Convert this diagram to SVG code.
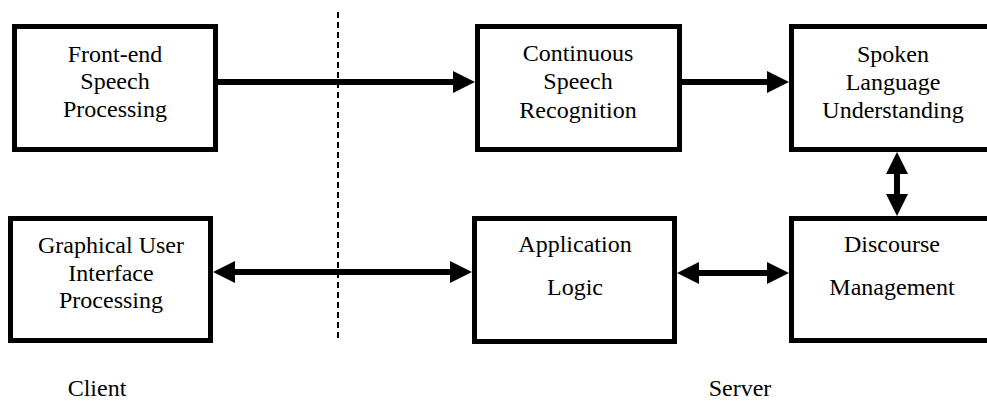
<svg xmlns="http://www.w3.org/2000/svg" width="987" height="401" viewBox="0 0 987 401">
<style>
.box{fill:#fff;stroke:#000;stroke-width:5}
.c{stroke:#000;stroke-width:6;fill:none}
.d{stroke:#000;stroke-width:2;stroke-dasharray:6 4;fill:none}
</style>
<defs>
<marker id="ah" viewBox="0 0 22 22" refX="12" refY="11" markerWidth="22" markerHeight="22" markerUnits="userSpaceOnUse" orient="auto-start-reverse">
<path d="M0,0 L22,11 L0,22 Z" fill="#000"/>
</marker>
</defs>
<rect width="987" height="401" fill="#fff"/>
<line class="d" x1="338" y1="12" x2="338" y2="342"/>
<g id="connectors">
<line class="c" x1="218" y1="82" x2="465" y2="82" marker-end="url(#ah)"/>
<line class="c" x1="682" y1="82" x2="779" y2="82" marker-end="url(#ah)"/>
<line class="c" x1="897" y1="162" x2="897" y2="206" marker-start="url(#ah)" marker-end="url(#ah)"/>
<line class="c" x1="223" y1="272" x2="462" y2="272" marker-start="url(#ah)" marker-end="url(#ah)"/>
<line class="c" x1="687" y1="273" x2="779" y2="273" marker-start="url(#ah)" marker-end="url(#ah)"/>
</g>
<g font-family="Liberation Serif, Times New Roman, serif" font-size="24" fill="#000" text-anchor="middle">
<g id="frontend">
<rect class="box" x="14.5" y="26.5" width="201" height="123"/>
<text x="115" y="62">Front-end</text>
<text x="115" y="89">Speech</text>
<text x="115" y="117">Processing</text>
</g>
<g id="csr">
<rect class="box" x="477.5" y="26.5" width="202" height="123"/>
<text x="578" y="61">Continuous</text>
<text x="578" y="89">Speech</text>
<text x="578" y="118">Recognition</text>
</g>
<g id="slu">
<rect class="box" x="791.5" y="26.5" width="210" height="123"/>
<text x="893" y="62">Spoken</text>
<text x="893" y="90">Language</text>
<text x="893" y="118">Understanding</text>
</g>
<g id="gui">
<rect class="box" x="10.5" y="218.5" width="200" height="122"/>
<text x="111" y="253">Graphical User</text>
<text x="111" y="281">Interface</text>
<text x="111" y="308">Processing</text>
</g>
<g id="app">
<rect class="box" x="474.5" y="218.5" width="200" height="123"/>
<text x="575" y="252">Application</text>
<text x="575" y="295">Logic</text>
</g>
<g id="dm">
<rect class="box" x="791.5" y="218.5" width="210" height="122"/>
<text x="892" y="252">Discourse</text>
<text x="892" y="295">Management</text>
</g>
<text x="97" y="396">Client</text>
<text x="740" y="396">Server</text>
</g>
</svg>
